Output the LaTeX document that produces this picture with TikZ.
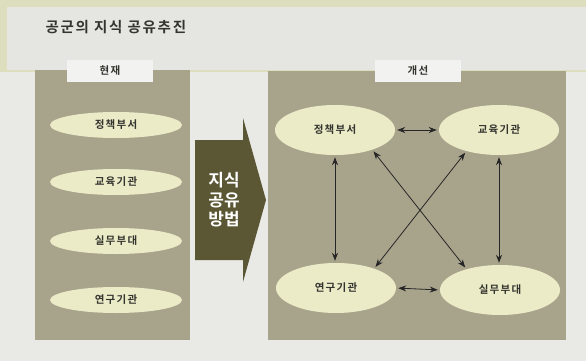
\documentclass[tikz,border=0pt]{standalone}
\usepackage{fontspec}
\newfontfamily\kr{Noto Sans CJK KR}
\newfontfamily\krb[LetterSpace=12]{Noto Sans CJK KR Bold}
\newfontfamily\krbt{Noto Sans CJK KR Bold}
\usetikzlibrary{shapes.geometric,arrows.meta}
\definecolor{bgc}{HTML}{E9E9E6}
\definecolor{bandc}{HTML}{DDDEBE}
\definecolor{innerc}{HTML}{E5E5E1}
\definecolor{panelc}{HTML}{A8A48C}
\definecolor{ellc}{HTML}{ECEBC8}
\definecolor{arrc}{HTML}{5B5734}
\definecolor{txtc}{HTML}{34342F}
\definecolor{labc}{HTML}{F2F2F0}
\tikzset{
  lab/.style={fill=labc, draw=none, minimum width=86pt, minimum height=21pt, inner sep=0pt, font=\krb\fontsize{10.5}{11}\selectfont, text=txtc},
  lell/.style={ellipse, fill=ellc, draw=none, minimum width=132pt, minimum height=26pt, inner sep=0pt, font=\krb\fontsize{10.5}{11}\selectfont, text=txtc},
  rell/.style={ellipse, fill=ellc, draw=none, minimum width=120pt, minimum height=50pt, inner sep=0pt, font=\krb\fontsize{10.5}{11}\selectfont, text=txtc},
  conn/.style={{Stealth[length=8pt,width=6pt]}-{Stealth[length=8pt,width=6pt]}, draw=black!85, line width=0.8pt, shorten >=2pt, shorten <=2pt},
}
\begin{document}
\begin{tikzpicture}[x=1pt,y=-1pt]
\useasboundingbox (0,0) rectangle (586,361);
\fill[bgc] (0,0) rectangle (586,361);
\fill[bandc] (0,0) rectangle (586,72);
\fill[innerc] (7,7) rectangle (586,70);
\node[anchor=west, font=\krb\fontsize{14.5}{15}\selectfont, text=txtc] (title) at (42,27) {공군의 지식 공유추진};
% left panel
\fill[panelc] (35,70) rectangle (190,340);
\node[lab] (labL) at (110,71) {현재};
\node[lell] (l1) at (116,125) {정책부서};
\node[lell] (l2) at (116,182) {교육기관};
\node[lell] (l3) at (116,241) {실무부대};
\node[lell] (l4) at (116,300) {연구기관};
% big arrow
\fill[arrc] (195,140) -- (243,140) -- (243,118) -- (266,200) -- (243,282) -- (243,260) -- (195,260) -- cycle;
\node[font=\krbt\fontsize{17}{19.5}\selectfont, text=white, align=center] (arrtxt) at (224,200) {지식\\공유\\방법};
% right panel
\fill[panelc] (268,71) rectangle (566,340);
\node[lab] (labR) at (418,71) {개선};
\node[rell] (r1) at (335,130) {정책부서};
\node[rell] (r2) at (499,130) {교육기관};
\node[rell] (r3) at (336,288) {연구기관};
\node[rell] (r4) at (500,290) {실무부대};
\draw[conn] (r1.east) -- (r2.west);
\draw[conn] (r3.east) -- (r4.west);
\draw[conn] (r1.south) -- (r1.south |- r3.north);
\draw[conn] (r2.south) -- (r2.south |- r4.north);
\draw[conn] (r4.148) -- (r1.-28);
\draw[conn] (r3.27) -- (r2.213);
\end{tikzpicture}
\end{document}
